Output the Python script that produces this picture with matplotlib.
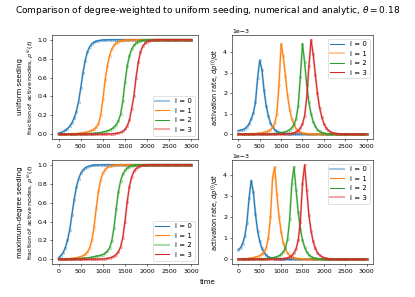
import numpy as np
import matplotlib
matplotlib.use('Agg')
import matplotlib.pyplot as plt

# time grid of the numerical runs
t = np.arange(0, 3050, 50)
labels = ['i = 0', 'i = 1', 'i = 2', 'i = 3']

# uniform seeding: fraction of active nodes
frac_uni_0 = [.010, .018, .028, .042, .060, .085, .120, .170, .240, .345,
              .490, .650, .780, .870, .925, .957, .975, .985, .991, .995,
              .997, .998, .999, .999, 1, 1, 1, 1, 1, 1,
              1, 1, 1, 1, 1, 1, 1, 1, 1, 1,
              1, 1, 1, 1, 1, 1, 1, 1, 1, 1,
              1, 1, 1, 1, 1, 1, 1, 1, 1, 1, 1]
frac_uni_1 = [.001, .001, .002, .002, .003, .004, .005, .006, .008, .010,
              .012, .015, .019, .024, .031, .040, .053, .075, .110, .200,
              .370, .570, .720, .830, .900, .940, .965, .979, .988, .993,
              .996, .998, .999, .999, 1, 1, 1, 1, 1, 1,
              1, 1, 1, 1, 1, 1, 1, 1, 1, 1,
              1, 1, 1, 1, 1, 1, 1, 1, 1, 1, 1]
frac_uni_2 = [0, 0, 0, 0, 0, 0, .001, .001, .001, .002,
              .002, .003, .004, .005, .006, .008, .010, .012, .015, .018,
              .023, .029, .036, .045, .058, .075, .100, .140, .210, .350,
              .550, .720, .830, .900, .940, .965, .979, .988, .993, .996,
              .998, .999, .999, 1, 1, 1, 1, 1, 1, 1,
              1, 1, 1, 1, 1, 1, 1, 1, 1, 1, 1]
frac_uni_3 = [0, 0, 0, 0, 0, 0, 0, 0, 0, 0,
              0, 0, 0, 0, 0, 0, 0, 0, 0, 0,
              0, .001, .002, .003, .004, .006, .009, .013, .020, .032,
              .052, .087, .150, .270, .400, .600, .760, .870, .930, .962,
              .980, .989, .994, .997, .999, .999, 1, 1, 1, 1,
              1, 1, 1, 1, 1, 1, 1, 1, 1, 1, 1]

# uniform seeding: activation rate (units of 1e-3)
rate_uni_0 = [.18, .20, .22, .28, .36, .50, .75, 1.05, 1.55, 2.75,
              3.60, 3.15, 2.15, 1.40, .90, .55, .35, .22, .14, .09,
              .06, .04, .03, .02, .014, .010, .007, .005, .003, .002,
              .001, 0, 0, 0, 0, 0, 0, 0, 0, 0,
              0, 0, 0, 0, 0, 0, 0, 0, 0, 0,
              0, 0, 0, 0, 0, 0, 0, 0, 0, 0, 0]
rate_uni_1 = [.003, .005, .007, .010, .013, .017, .022, .028, .035, .045,
              .055, .070, .090, .120, .160, .220, .330, .550, 1.00, 2.40,
              4.40, 3.80, 2.85, 1.90, 1.20, .75, .45, .28, .17, .10,
              .06, .04, .025, .015, .010, .006, .004, .002, .001, 0,
              0, 0, 0, 0, 0, 0, 0, 0, 0, 0,
              0, 0, 0, 0, 0, 0, 0, 0, 0, 0, 0]
rate_uni_2 = [0, 0, .001, .001, .001, .002, .002, .003, .004, .005,
              .006, .008, .010, .013, .017, .022, .028, .035, .045, .055,
              .070, .090, .120, .160, .220, .320, .480, .750, 1.40, 2.80,
              4.40, 3.50, 2.40, 1.55, 1.00, .62, .38, .23, .14, .085,
              .05, .03, .018, .011, .007, .004, .002, .001, 0, 0,
              0, 0, 0, 0, 0, 0, 0, 0, 0, 0, 0]
rate_uni_3 = [0, 0, 0, 0, 0, 0, 0, 0, 0, 0,
              0, 0, 0, 0, 0, .001, .002, .003, .004, .005,
              .007, .010, .014, .020, .030, .045, .070, .110, .180, .300,
              .500, .900, 1.80, 3.30, 4.60, 3.90, 2.90, 2.00, 1.30, .85,
              .52, .32, .20, .12, .075, .045, .028, .017, .010, .006,
              .004, .002, .001, 0, 0, 0, 0, 0, 0, 0, 0]

# maximum-degree seeding: fraction of active nodes
frac_max_0 = [.015, .040, .070, .120, .200, .310, .470, .630, .760, .850,
              .910, .945, .967, .980, .988, .993, .996, .998, .999, .999,
              1, 1, 1, 1, 1, 1, 1, 1, 1, 1,
              1, 1, 1, 1, 1, 1, 1, 1, 1, 1,
              1, 1, 1, 1, 1, 1, 1, 1, 1, 1,
              1, 1, 1, 1, 1, 1, 1, 1, 1, 1, 1]
frac_max_1 = [.001, .002, .003, .004, .005, .007, .009, .012, .016, .021,
              .028, .038, .052, .075, .120, .200, .340, .540, .720, .840,
              .910, .950, .972, .985, .992, .996, .998, .999, .999, 1,
              1, 1, 1, 1, 1, 1, 1, 1, 1, 1,
              1, 1, 1, 1, 1, 1, 1, 1, 1, 1,
              1, 1, 1, 1, 1, 1, 1, 1, 1, 1, 1]
frac_max_2 = [0, 0, .001, .001, .002, .002, .003, .004, .005, .006,
              .008, .010, .012, .015, .018, .022, .027, .033, .037, .043,
              .050, .065, .085, .120, .190, .330, .530, .710, .830, .900,
              .940, .965, .980, .989, .994, .997, .998, .999, .999, 1,
              1, 1, 1, 1, 1, 1, 1, 1, 1, 1,
              1, 1, 1, 1, 1, 1, 1, 1, 1, 1, 1]
frac_max_3 = [0, 0, 0, 0, 0, 0, 0, 0, 0, 0,
              0, 0, 0, 0, 0, .001, .001, .001, .002, .003,
              .004, .006, .009, .014, .021, .032, .050, .080, .130, .230,
              .400, .610, .770, .870, .930, .960, .977, .987, .993, .996,
              .998, .999, .999, 1, 1, 1, 1, 1, 1, 1,
              1, 1, 1, 1, 1, 1, 1, 1, 1, 1, 1]

# maximum-degree seeding: activation rate (units of 1e-3)
rate_max_0 = [.46, .55, .75, 1.10, 1.75, 2.90, 3.75, 3.20, 2.15, 1.35,
              .85, .52, .32, .20, .12, .08, .05, .03, .02, .012,
              .008, .005, .003, .002, .001, 0, 0, 0, 0, 0,
              0, 0, 0, 0, 0, 0, 0, 0, 0, 0,
              0, 0, 0, 0, 0, 0, 0, 0, 0, 0,
              0, 0, 0, 0, 0, 0, 0, 0, 0, 0, 0]
rate_max_1 = [.010, .015, .020, .027, .035, .045, .060, .080, .100, .130,
              .180, .250, .350, .550, 1.00, 2.00, 3.90, 4.40, 3.10, 2.05,
              1.30, .78, .48, .29, .18, .11, .065, .04, .025, .015,
              .009, .005, .003, .002, .001, 0, 0, 0, 0, 0,
              0, 0, 0, 0, 0, 0, 0, 0, 0, 0,
              0, 0, 0, 0, 0, 0, 0, 0, 0, 0, 0]
rate_max_2 = [0, .001, .001, .002, .003, .004, .005, .007, .009, .012,
              .016, .020, .026, .033, .042, .055, .070, .090, .120, .170,
              .240, .350, .550, .950, 1.90, 3.60, 4.40, 3.30, 2.25, 1.45,
              .92, .57, .35, .21, .13, .08, .05, .03, .018, .011,
              .007, .004, .002, .001, 0, 0, 0, 0, 0, 0,
              0, 0, 0, 0, 0, 0, 0, 0, 0, 0, 0]
rate_max_3 = [0, 0, 0, 0, 0, 0, 0, 0, 0, 0,
              0, .001, .001, .002, .003, .004, .005, .007, .010, .014,
              .020, .030, .045, .070, .110, .180, .300, .500, .900, 1.80,
              3.60, 4.50, 3.30, 2.10, 1.35, .85, .52, .32, .20, .12,
              .075, .045, .028, .017, .010, .006, .004, .002, .001, 0,
              0, 0, 0, 0, 0, 0, 0, 0, 0, 0, 0]

frac_uni = [frac_uni_0, frac_uni_1, frac_uni_2, frac_uni_3]
rate_uni = [rate_uni_0, rate_uni_1, rate_uni_2, rate_uni_3]
frac_max = [frac_max_0, frac_max_1, frac_max_2, frac_max_3]
rate_max = [rate_max_0, rate_max_1, rate_max_2, rate_max_3]

colors = ['tab:blue', 'tab:orange', 'tab:green', 'tab:red']


def draw(ax, series, scale, thick_legend):
    # numerical (thick, light, markers) + analytic (thin) curves
    handles = []
    for i, y in enumerate(series):
        y = np.array(y) * scale
        h_num, = ax.plot(t, y, color=colors[i], lw=3, alpha=0.4)
        ax.plot(t, y, ls='none', marker='o', ms=3.5, mfc='none', mew=0.8,
                color=colors[i], alpha=0.6)
        h_an, = ax.plot(t, y, color=colors[i], lw=1.5)
        handles.append(h_num if thick_legend[i] else h_an)
    return handles


plt.rcParams['xtick.labelsize'] = 9
plt.rcParams['ytick.labelsize'] = 9

fig = plt.figure(figsize=(8.3, 5.94), dpi=50)
ax1 = fig.add_axes([0.1253, 0.532, 0.3518, 0.350])
ax2 = fig.add_axes([0.559, 0.532, 0.3398, 0.350])
ax3 = fig.add_axes([0.1253, 0.111, 0.3518, 0.350])
ax4 = fig.add_axes([0.559, 0.111, 0.3398, 0.350])

frac_label = 'fraction of active nodes, $\\rho^{(i)}(t)$'
rate_label = 'activation rate, $d\\rho^{(i)}/dt$'

h = draw(ax1, frac_uni, 1, [True, False, False, True])
ax1.legend(h, labels, loc='lower right', fontsize=10)
ax1.set_ylabel(frac_label, fontsize=9, labelpad=2)

h = draw(ax2, rate_uni, 1e-3, [False, True, False, False])
ax2.legend(h, labels, loc='upper right', fontsize=10)
ax2.set_ylabel(rate_label, fontsize=9.5, labelpad=2)

h = draw(ax3, frac_max, 1, [False, False, True, False])
ax3.legend(h, labels, loc='lower right', fontsize=10)
ax3.set_ylabel(frac_label, fontsize=9, labelpad=2)

h = draw(ax4, rate_max, 1e-3, [True, False, False, True])
ax4.legend(h, labels, loc='upper right', fontsize=10)
ax4.set_ylabel(rate_label, fontsize=9.5, labelpad=2)

for ax in [ax1, ax2, ax3, ax4]:
    ax.set_xticks([0, 500, 1000, 1500, 2000, 2500, 3000])
for ax in [ax2, ax4]:
    ax.ticklabel_format(axis='y', style='sci', scilimits=(0, 0))
    ax.yaxis.get_offset_text().set_fontsize(9)

# row labels
fig.text(0.048, 0.707, 'uniform seeding', rotation=90, ha='center', va='center', fontsize=10)
fig.text(0.048, 0.286, 'maximum-degree seeding', rotation=90, ha='center', va='center', fontsize=10)

fig.suptitle('Comparison of degree-weighted to uniform seeding, numerical and analytic, $\\theta = 0.18$',
             fontsize=13, y=0.985)
fig.text(0.5, 0.05, 'time', ha='center', va='center', fontsize=10)

fig.savefig('out.png', dpi=50)
